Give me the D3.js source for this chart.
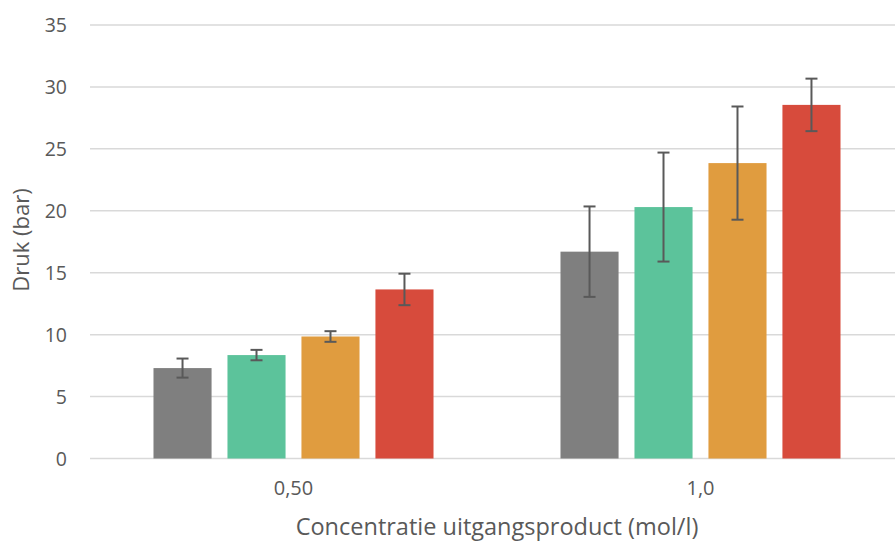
<!DOCTYPE html>
<html>
<head>
<meta charset="utf-8">
<script src="https://cdn.jsdelivr.net/npm/d3@7"></script>
<style>
  body { margin: 0; background: #fff; }
  text { font-family: "Open Sans", "Noto Sans", sans-serif; fill: #595959; }
</style>
</head>
<body>
<script>
var width = 895,
    height = 541;

// concentrations on the x axis
var categories = ["0,50", "1,0"];
// the four coloured series (one bar each per category)
var series = ["s1", "s2", "s3", "s4"];
var colors = ["#7f7f7f", "#5cc39b", "#e09c3f", "#d74b3c"];
// bar heights per series, one value per category
var values = [
    [7.3, 16.7],
    [8.35, 20.3],
    [9.85, 23.85],
    [13.65, 28.55]
];
// half of the error bar, same layout
var errors = [
    [0.77, 3.65],
    [0.42, 4.4],
    [0.43, 4.57],
    [1.27, 2.12]
];
var yTicks = [0, 5, 10, 15, 20, 25, 30, 35];

var margin = {left: 90, top: 25, bottom: 83}; // bottom = height - y(0)

var svg = d3.select("body").append("svg")
    .attr("width", width)
    .attr("height", height);

var x0 = d3.scaleBand()
    .domain(categories)
    .range([margin.left, 904])
    .paddingInner(0.312)
    .paddingOuter(0.156);

var x1 = d3.scaleBand()
    .domain(series)
    .range([0, x0.bandwidth()])
    .paddingInner(0.215);

var y = d3.scaleLinear()
    .domain([0, 35])
    .range([height - margin.bottom + 0.5, margin.top]);

// gridlines
svg.append("g")
    .selectAll("line")
    .data(yTicks)
    .enter().append("line")
    .attr("x1", margin.left)
    .attr("x2", width)
    .attr("y1", function (d) { return y(d); })
    .attr("y2", function (d) { return y(d); })
    .attr("stroke", "#d9d9d9")
    .attr("stroke-width", 1.5);

// y tick labels
svg.append("g")
    .selectAll("text")
    .data(yTicks)
    .enter().append("text")
    .attr("x", 67)
    .attr("y", function (d) { return y(d); })
    .attr("dy", "0.36em")
    .attr("text-anchor", "end")
    .style("font-size", "19.5px")
    .text(function (d) { return d; });

// x category labels
svg.append("g")
    .selectAll("text")
    .data(categories)
    .enter().append("text")
    .attr("x", function (d) { return x0(d) + x0.bandwidth() / 2; })
    .attr("y", 495)
    .attr("text-anchor", "middle")
    .style("font-size", "20px")
    .text(function (d) { return d; });

// bars
var flat = [];
series.forEach(function (s, i) {
    categories.forEach(function (c, j) {
        flat.push({s: s, c: c, i: i, v: values[i][j], e: errors[i][j]});
    });
});

var bars = svg.append("g")
    .selectAll("g")
    .data(flat)
    .enter().append("g")
    .attr("transform", function (d) { return "translate(" + (x0(d.c) + x1(d.s)) + ",0)"; });

bars.append("rect")
    .attr("x", 0)
    .attr("width", x1.bandwidth())
    .attr("y", function (d) { return y(d.v); })
    .attr("height", function (d) { return y(0) - y(d.v); })
    .attr("fill", function (d) { return colors[d.i]; });

// error bars
var cx = x1.bandwidth() / 2;
bars.append("line")
    .attr("x1", cx).attr("x2", cx)
    .attr("y1", function (d) { return y(d.v + d.e); })
    .attr("y2", function (d) { return y(d.v - d.e); })
    .attr("stroke", "#595959")
    .attr("stroke-width", 2);
bars.selectAll(".cap")
    .data(function (d) { return [d.v + d.e, d.v - d.e]; })
    .enter().append("line")
    .attr("class", "cap")
    .attr("x1", cx - 6).attr("x2", cx + 6)
    .attr("y1", function (d) { return y(d); })
    .attr("y2", function (d) { return y(d); })
    .attr("stroke", "#595959")
    .attr("stroke-width", 2);

// axis titles
svg.append("text")
    .attr("x", 497)
    .attr("y", 535)
    .attr("text-anchor", "middle")
    .style("font-size", "23.5px")
    .text("Concentratie uitgangsproduct (mol/l)");

svg.append("text")
    .attr("transform", "translate(29," + 240 + ") rotate(-90)")
    .attr("text-anchor", "middle")
    .style("font-size", "22px")
    .text("Druk (bar)");
</script>
</body>
</html>
